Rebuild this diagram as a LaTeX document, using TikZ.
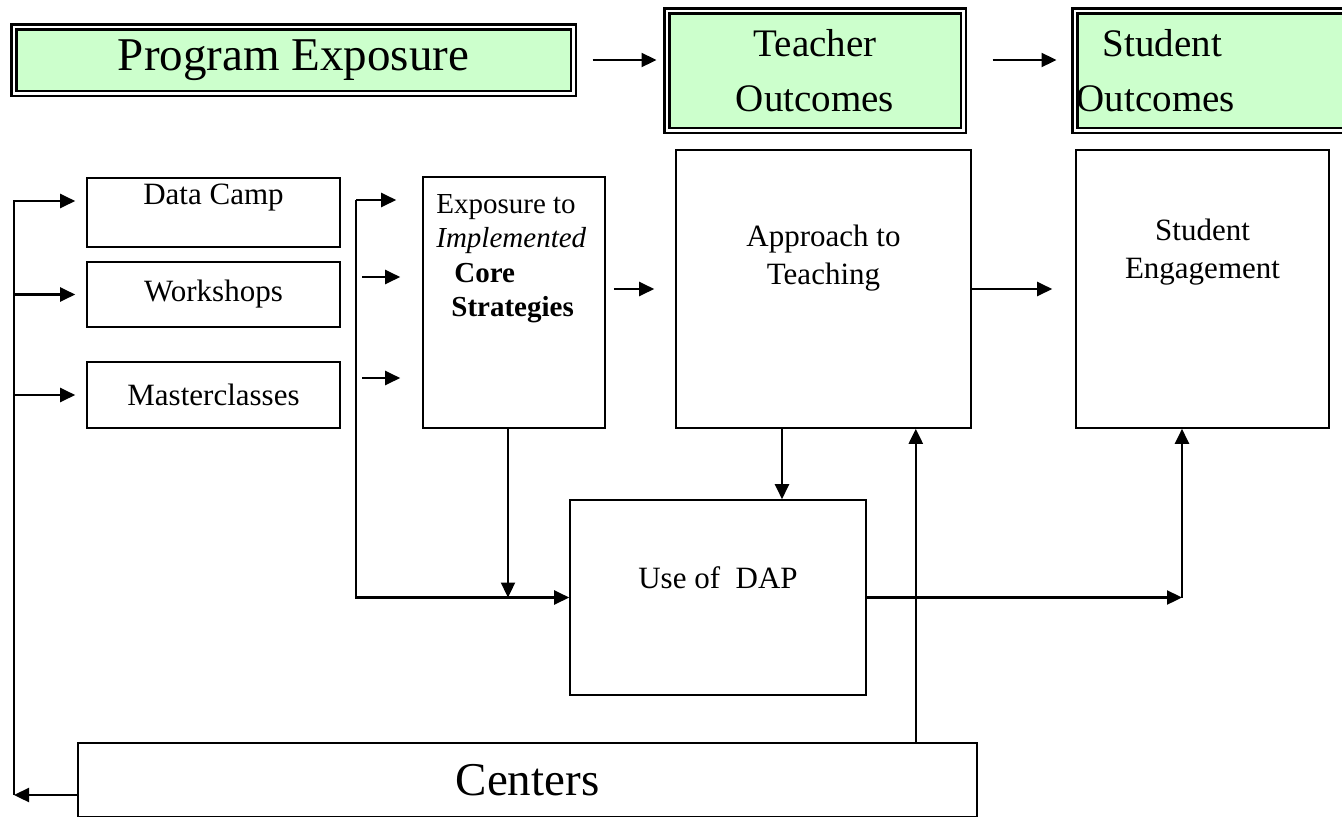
\documentclass[tikz,border=0pt]{standalone}
\usepackage{fontspec}
\setmainfont{Liberation Serif}
\usetikzlibrary{arrows.meta, positioning, calc}
\definecolor{hgreen}{HTML}{CCFFCC}

\begin{document}
\begin{tikzpicture}[
  x=1pt, y=-1pt,
  box/.style={draw, line width=1.6pt, inner sep=0pt, font=\fontsize{31}{38}\selectfont},
  hbox/.style={draw, line width=2.5pt, double, double distance=2.5pt, fill=hgreen, inner sep=2pt},
  txt/.style={inner sep=0pt, align=center, font=\fontsize{31}{38}\selectfont},
  arrow/.style={-{Triangle[length=15pt, width=14pt]}, line width=2.3pt}
]
\useasboundingbox (0,0) rectangle (1342,817);

% header row
\node[hbox, minimum width=559.5pt, minimum height=66.5pt, font=\fontsize{47}{56}\selectfont] (prog) at (293.5,60) {Program Exposure};
\node[hbox, minimum width=296.5pt, minimum height=119.5pt, align=center, font=\fontsize{39}{55}\selectfont] (teach) at (815,70.5) {Teacher\\Outcomes};
\node[hbox, minimum height=119.5pt, text width=296pt, align=left, font=\fontsize{39}{55}\selectfont] (stud) at (1224.75,70.5) {\hspace*{26pt}Student\\Outcomes};

\draw[arrow, shorten <=18pt, shorten >=9pt] (prog.east) -- (prog.east -| teach.west);
\draw[arrow, shorten <=28pt, shorten >=17pt] (prog.east -| teach.east) -- (prog.east -| stud.west);

% program exposure
\node[box, minimum width=253pt, text height=26pt, text depth=43pt] (camp) at (213.5,212.5) {Data Camp};
\node[box, minimum width=253pt, minimum height=65pt] (work) at (213.5,294.5) {Workshops};
\node[box, minimum width=253pt, minimum height=66pt] (mast) at (213.5,395) {Masterclasses};
\node[box, minimum width=182pt, minimum height=251pt] (expo) at (514,302.5) {};
\node[txt, align=left, font=\fontsize{29}{34.5}\selectfont, below right=18pt and 14pt of expo.north west] (expotxt)
  {Exposure to\\\textit{Implemented}\\\hspace*{18pt}\textbf{Core}\\\hspace*{15pt}\textbf{Strategies}};

% outcomes
\node[box, minimum width=295pt, minimum height=278pt] (appr) at (823.5,289) {};
\node[txt, below=76pt of appr.north] (apprtxt) {Approach to\\Teaching};
\node[box, minimum width=253pt, minimum height=278pt] (eng) at (1202.5,289) {};
\node[txt, below=70pt of eng.north] (engtxt) {Student\\Engagement};
\node[box, minimum width=296pt, text height=88pt, text depth=107pt] (dap) at (718,597.5) {Use of\ \ DAP};
\node[box, minimum width=899pt, minimum height=73.5pt, font=\fontsize{47}{56}\selectfont] (centers) at (527.5,779.75) {Centers};

% bus lines
\coordinate (busTop) at (14,201);
\coordinate (busBot) at (14,795);
\coordinate (busTwo) at (356,200);
\coordinate (wsIn) at (362,277);
\coordinate (msIn) at (362,378);
\coordinate (apDown) at ($(appr.south)+(-41.5,0)$);
\coordinate (cnUp) at ($(centers.north east)+(-62,0)$);
\coordinate (engTurn) at (1182,597.5);

\draw[arrow, shorten >=11pt] (busBot) -- (busTop) -- (busTop -| camp.west);
\draw[arrow, shorten >=11pt] (busTop |- work.west) -- (work.west);
\draw[arrow, shorten >=11pt] (busTop |- mast.west) -- (mast.west);
\draw[arrow] (centers.west |- busBot) -- (busBot);

\draw[arrow, shorten >=26pt] (busTwo) -- (busTwo -| expo.west);
\draw[arrow, shorten >=22pt] (wsIn) -- (wsIn -| expo.west);
\draw[arrow, shorten >=22pt] (msIn) -- (msIn -| expo.west);
\draw[arrow] (busTwo) |- (dap.west);

\draw[arrow, shorten <=8pt, shorten >=21pt] (appr.west -| expo.east) -- (appr.west);
\draw[arrow, shorten >=23pt] (appr.east) -- (appr.east -| eng.west);
\draw[arrow] ($(expo.south)+(-6,0)$) -- ($(expo.south |- dap.west)+(-6,0)$);
\draw[arrow] (apDown) -- (apDown |- dap.north);
\draw[arrow] (cnUp) -- (cnUp |- appr.south);
\draw[arrow] (dap.east) -- (engTurn);
\draw[arrow] (engTurn) -- (engTurn |- eng.south);
\end{tikzpicture}
\end{document}
